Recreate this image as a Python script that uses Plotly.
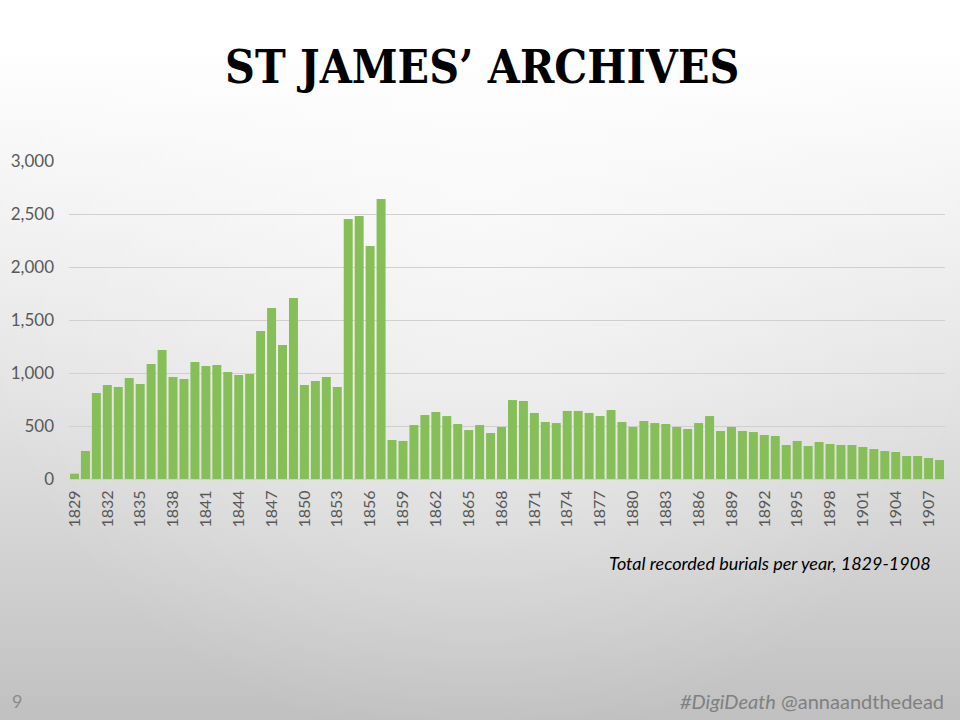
import base64
import plotly.graph_objects as go

years = list(range(1829, 1909))
burials = [
    50, 264, 811, 887, 868, 953, 896, 1085, 1217, 962,
    943, 1104, 1066, 1076, 1010, 981, 991, 1396, 1613, 1264,
    1708, 887, 925, 962, 868, 2453, 2481, 2198, 2642, 368,
    359, 509, 604, 632, 594, 519, 462, 509, 434, 491,
    745, 736, 623, 538, 528, 642, 642, 623, 594, 651,
    538, 491, 547, 528, 519, 491, 472, 528, 594, 453,
    491, 453, 443, 415, 406, 321, 359, 311, 349, 330,
    321, 321, 302, 283, 264, 255, 217, 217, 198, 179,
]
tick_years = list(range(1829, 1909, 3))
tick_labels = [str(y) for y in tick_years]
y_ticks = [0, 500, 1000, 1500, 2000, 2500, 3000]
y_tick_labels = ["0", "500", "1,000", "1,500", "2,000", "2,500", "3,000"]

W, H = 960, 720
L, R, T, B = 69, 15, 161, 241
pw, ph = W - L - R, H - T - B

svg = f'''<svg xmlns="http://www.w3.org/2000/svg" width="{W}" height="{H}" preserveAspectRatio="none">
<defs>
<linearGradient id="v" x1="0" y1="0" x2="0" y2="1">
<stop offset="0" stop-color="#ffffff"/>
<stop offset="0.06" stop-color="#ffffff"/>
<stop offset="0.28" stop-color="#f3f3f3"/>
<stop offset="0.55" stop-color="#e3e3e3"/>
<stop offset="0.76" stop-color="#d3d3d3"/>
<stop offset="1" stop-color="#c0c0c0"/>
</linearGradient>
<radialGradient id="r" gradientUnits="userSpaceOnUse" cx="480" cy="230" r="520">
<stop offset="0" stop-color="#ffffff" stop-opacity="0.55"/>
<stop offset="0.6" stop-color="#ffffff" stop-opacity="0.2"/>
<stop offset="1" stop-color="#ffffff" stop-opacity="0"/>
</radialGradient>
</defs>
<rect width="{W}" height="{H}" fill="url(#v)"/>
<rect width="{W}" height="{H}" fill="url(#r)"/></svg>'''
bg_uri = "data:image/svg+xml;base64," + base64.b64encode(svg.encode()).decode()

fig = go.Figure(go.Bar(
    x=years, y=burials, marker=dict(color="#86bf57", line=dict(width=0)),
))

fig.update_layout(
    width=W, height=H,
    margin=dict(l=L, r=R, t=T, b=B),
    paper_bgcolor="#d6d6d6",
    plot_bgcolor="rgba(0,0,0,0)",
    bargap=0.18,
    showlegend=False,
    font=dict(family="Lato, Open Sans, sans-serif", color="#595959"),
    images=[dict(
        source=bg_uri, xref="paper", yref="paper",
        x=-L / pw, y=1 + T / ph, sizex=W / pw, sizey=H / ph,
        xanchor="left", yanchor="top", sizing="stretch", layer="below",
    )],
    xaxis=dict(
        range=[1828.5, 1908.5], tickmode="array",
        tickvals=tick_years, ticktext=tick_labels, tickangle=-90,
        tickfont=dict(size=16, color="#595959"),
        showgrid=False, zeroline=False, showline=True,
        linecolor="#d0d0d0", linewidth=1, ticks="", ticklabelstandoff=4,
    ),
    yaxis=dict(
        range=[0, 3000], tickmode="array",
        tickvals=y_ticks, ticktext=y_tick_labels,
        tickfont=dict(size=17, color="#595959"),
        showgrid=True, gridcolor="#d0d0d0", gridwidth=1,
        zeroline=False, showline=False, ticks="", ticklabelstandoff=14,
    ),
    annotations=[
        dict(text="<b>ST JAMES’ ARCHIVES</b>", xref="paper", yref="paper",
             x=(482 - L) / pw, y=1 + (T - 67) / ph, xanchor="center", yanchor="middle",
             showarrow=False,
             font=dict(family="DejaVu Serif Condensed, DejaVu Serif, serif", size=46, color="#000000")),
        dict(text="<i>Total recorded burials per year, 1829-1908</i>", xref="paper", yref="paper",
             x=(933 - L) / pw, y=-(563 - 479) / ph, xanchor="right", yanchor="middle",
             showarrow=False,
             font=dict(family="Lato, Open Sans, sans-serif", size=18, color="#000000")),
        dict(text="9", xref="paper", yref="paper",
             x=-(L - 10) / pw, y=-(701 - 479) / ph, xanchor="left", yanchor="middle",
             showarrow=False, font=dict(family="Lato, sans-serif", size=18, color="#8c8c8c")),
        dict(text="<i>#DigiDeath</i> @annaandthedead", xref="paper", yref="paper",
             x=(946 - L) / pw, y=-(701 - 479) / ph, xanchor="right", yanchor="middle",
             showarrow=False, font=dict(family="Lato, sans-serif", size=20, color="#808080")),
    ],
)

fig.write_html("out.html", config={"displayModeBar": False},
               post_script="document.body.style.margin='0';")
